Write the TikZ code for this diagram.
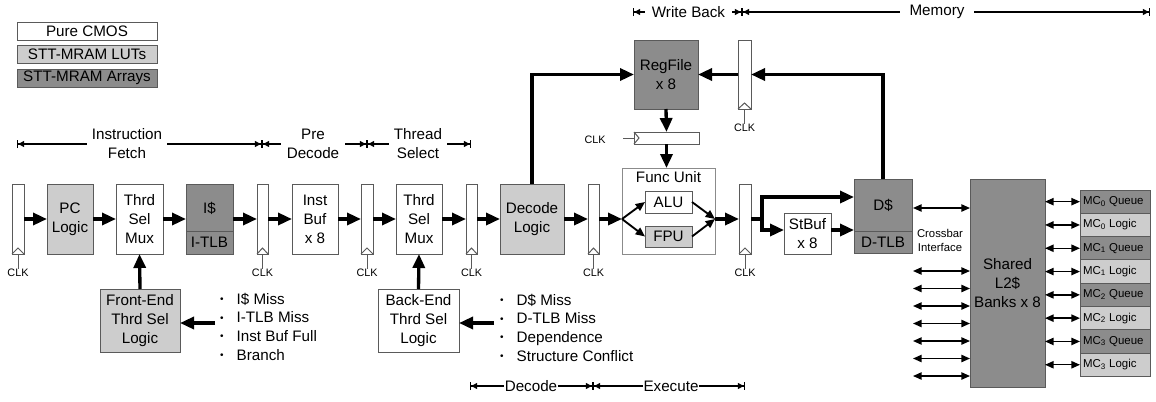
\documentclass[tikz,border=0pt]{standalone}
\usepackage{fontspec}
\setmainfont{Liberation Sans}
\usetikzlibrary{arrows.meta,calc}

\definecolor{lutgray}{HTML}{CDCDCD}
\definecolor{arrgray}{HTML}{8C8C8C}
\definecolor{edge}{HTML}{5A5A5A}

\newcommand\mainf{\fontsize{11.4}{14.25}\selectfont}
\newcommand\bulf{\fontsize{11.4}{14}\selectfont}
\newcommand\clkf{\fontsize{8.1}{9.5}\selectfont}
\newcommand\smf{\fontsize{8.5}{10.5}\selectfont}
\newcommand\mcf{\fontsize{8.6}{10}\selectfont}
\newcommand\bl{\makebox[12.5pt][l]{\raisebox{1.1pt}{\fontsize{7.5}{7.5}\selectfont\textbullet}}}

% block from its corners (x1,y1)-(x2,y2) in pixel units
\newcommand\blk[7]{\node[#6, minimum width={0.75pt*((#4)-(#2))}, minimum height={0.75pt*((#5)-(#3))}] (#1) at ({((#2)+(#4))/2},{((#3)+(#5))/2}) {#7};}

\tikzset{
  every node/.style={inner sep=0pt, outer sep=0pt, font=\mainf},
  box/.style={draw=edge, line width=0.75pt, fill=white, align=center},
  lutbox/.style={box, fill=lutgray},
  arrbox/.style={box, fill=arrgray},
  latch/.style={box},
  clkline/.style={draw=edge, line width=0.75pt},
  thk/.style={line width=2.5pt, -{Triangle[length=10.5pt,width=9pt]}},
  thn/.style={line width=1.4pt, -{Triangle[length=7pt,width=6pt]}},
  dbl/.style={line width=1.1pt, {Triangle[length=6.5pt,width=5.5pt]}-{Triangle[length=6.5pt,width=5.5pt]}},
  dimline/.style={line width=0.9pt, {Bar[width=6pt]Triangle[length=4.5pt,width=4.5pt]}-{Triangle[length=4.5pt,width=4.5pt]Bar[width=6pt]}},
  dimlab/.style={fill=white, align=center, inner xsep=4pt, inner ysep=1pt},
}

\begin{document}
\begin{tikzpicture}[x=0.75pt,y=-0.75pt]
\useasboundingbox (0,0) rectangle (1156,401);

% legend
\blk{lg1}{17}{22}{157}{40}{box}{Pure CMOS}
\blk{lg2}{17}{45}{157}{63}{lutbox}{STT-MRAM LUTs}
\blk{lg3}{17}{69}{157}{87}{arrbox}{STT-MRAM Arrays}

% pipeline stages
\blk{L1}{12}{184}{24}{254}{latch}{}
\blk{PC}{47}{184}{93}{254}{lutbox}{PC\\Logic}
\blk{M1}{116}{184}{163}{254}{box}{Thrd\\Sel\\Mux}
\blk{IC}{186}{184}{233}{254}{arrbox}{}
\blk{L2}{257}{184}{268}{254}{latch}{}
\blk{IB}{292}{184}{338}{254}{box}{Inst\\Buf\\x 8}
\blk{L3}{361}{184}{373}{254}{latch}{}
\blk{M2}{396}{184}{442}{254}{box}{Thrd\\Sel\\Mux}
\blk{L4}{466}{184}{477}{254}{latch}{}
\blk{DL}{500}{184}{564}{254}{lutbox}{Decode\\Logic}
\blk{L5}{588}{184}{599}{254}{latch}{}
\blk{FU}{622}{168}{715}{254}{box, draw=edge!70}{}
\blk{ALU}{645}{191}{692}{213}{box}{ALU}
\blk{FPU}{645}{226}{692}{247}{lutbox}{FPU}
\blk{L6}{739}{184}{751}{254}{latch}{}
\blk{SB}{784}{213}{831}{254}{box}{StBuf\\x 8}
\blk{DC}{854}{179}{912}{253}{arrbox}{}
\blk{L2C}{970}{179}{1045}{387}{arrbox}{Shared\\L2\$\\Banks x 8}
\blk{RF}{634}{40}{698}{109}{arrbox}{RegFile\\x 8}
\blk{WBL}{738}{40}{751}{109}{latch}{}
\blk{HL}{634}{132}{699}{144}{latch}{}
\blk{FE}{100}{289}{180}{352}{lutbox}{Front-End\\Thrd Sel\\Logic}
\blk{BE}{378}{289}{459}{352}{box}{Back-End\\Thrd Sel\\Logic}

% split caches
\draw[clkline] (IC.west |- 0,231) -- (IC.east |- 0,231);
\node (ict) at (209.5,208) {I\$};
\node (ictlb) at (209.5,242.5) {I-TLB};
\draw[clkline] (DC.west |- 0,231) -- (DC.east |- 0,231);
\node (dct) at (883,205) {D\$};
\node (dctlb) at (883,242.5) {D-TLB};
\node (fut) at (668.5,177) {Func Unit};

% memory controllers
\foreach \k/\n/\c in {0/{MC\textsubscript{0} Queue}/arrbox, 1/{MC\textsubscript{0} Logic}/lutbox,
                      2/{MC\textsubscript{1} Queue}/arrbox, 3/{MC\textsubscript{1} Logic}/lutbox,
                      4/{MC\textsubscript{2} Queue}/arrbox, 5/{MC\textsubscript{2} Logic}/lutbox,
                      6/{MC\textsubscript{3} Queue}/arrbox, 7/{MC\textsubscript{3} Logic}/lutbox} {
  \blk{mc\k}{1080}{190+23.3*\k}{1150}{213.3+23.3*\k}{\c}{}
  \node[anchor=west, font=\mcf] (mt\k) at ($(mc\k.west)+(3,0)$) {\n};
  \draw[dbl] (L2C.east |- mc\k.west) -- (mc\k.west);
}

% clocks on the pipeline latches
\foreach \n in {L1,L2,L3,L4,L5,L6,WBL} {
  \draw[clkline] (\n.south west) -- ($(\n.south)+(0,-6)$) -- (\n.south east);
  \node[font=\clkf] (ck\n) at ($(\n.south)+(0,19)$) {CLK};
  \draw[clkline] (\n.south) -- (ck\n.north);
}
\draw[clkline] (HL.north west) -- ($(HL.west)+(5,0)$) -- (HL.south west);
\node[font=\clkf] (ckHL) at (595,140) {CLK};
\coordinate (hk) at (623,138);
\draw[clkline] (hk) -- (HL.west);

% main datapath
\draw[thk] (L1.east) -- (PC.west);
\draw[thk] (PC.east) -- (M1.west);
\draw[thk] (M1.east) -- (IC.west);
\draw[thk] (IC.east) -- (L2.west);
\draw[thk] (L2.east) -- (IB.west);
\draw[thk] (IB.east) -- (L3.west);
\draw[thk] (L3.east) -- (M2.west);
\draw[thk] (M2.east) -- (L4.west);
\draw[thk] (L4.east) -- (DL.west);
\draw[thk] (DL.east) -- (L5.west);
\coordinate (fk) at (FU.west |- L5.east);
\coordinate (jn) at (FU.east |- L5.east);
\draw[thk] (L5.east) -- (fk);
\draw[thn] (fk) -- (ALU.west);
\draw[thn] (fk) -- (FPU.west);
\draw[thn] (ALU.east) -- (jn);
\draw[thn] (FPU.east) -- (jn);
\draw[thk] (jn) -- (L6.west);
\coordinate (bu) at (762,197);
\coordinate (bd) at (762,230);
\draw[thk] (L6.east) -| (bu) -- (bu -| DC.west);
\draw[thk] (L6.east) -| (bd) -- (bd -| SB.west);
\draw[thk] (SB.east |- bd) -- (DC.west |- bd);

% register file paths
\draw[thk] (DL.north) |- (RF.west);
\draw[thk] (DC.north) |- (WBL.east);
\draw[thk] (WBL.west) -- (RF.east);
\draw[thk] (RF.south) -- (HL.north);
\draw[thk] (HL.south) -- (HL.south |- FU.north);

% thread select logic
\draw[thk] (FE.north) -- (M1.south);
\draw[thk] (BE.north) -- (M2.south);
\coordinate (fa) at (215,323);
\draw[thk] (fa) -- (fa -| FE.east);
\coordinate (ba) at (494,323);
\draw[thk] (ba) -- (ba -| BE.east);
\node[anchor=west, align=left, font=\bulf] (fbl) at (220,326.5)
  {\bl I\$ Miss\\\bl I-TLB Miss\\\bl Inst Buf Full\\\bl Branch};
\node[anchor=west, align=left, font=\bulf] (bbl) at (500,327.5)
  {\bl D\$ Miss\\\bl D-TLB Miss\\\bl Dependence\\\bl Structure Conflict};

% crossbar
\coordinate (cx) at (913,208);
\draw[dbl] (cx) -- (cx -| L2C.west);
\node[font=\smf, align=center] (xbar) at (940,240) {Crossbar\\Interface};
\foreach \k in {0,...,6} {
  \coordinate (xa\k) at (913,{271+17.5*\k});
  \draw[dbl] (xa\k) -- (xa\k -| L2C.west);
}

% pipeline stage extents
\coordinate (d0) at (17,144);
\coordinate (d1) at (262,144);
\coordinate (d2) at (367,144);
\coordinate (d3) at (471,144);
\draw[dimline] (d0) -- (d1);
\draw[dimline] (d1) -- (d2);
\draw[dimline] (d2) -- (d3);
\node[dimlab] (lif) at (127,144) {Instruction\\Fetch};
\node[dimlab] (lpd) at (313,144) {Pre\\Decode};
\node[dimlab] (lts) at (418,144) {Thread\\Select};

\coordinate (w0) at (633,12);
\coordinate (w1) at (742,12);
\coordinate (w2) at (1150,12);
\draw[dimline] (w0) -- (w1);
\draw[dimline] (w1) -- (w2);
\node[dimlab, inner xsep=5pt] (lwb) at (688.5,12) {Write Back};
\node[dimlab, inner xsep=7pt] (lmem) at (937,12) {Memory};

\coordinate (e0) at (470,386);
\coordinate (e1) at (593,386);
\coordinate (e2) at (745,386);
\draw[dimline] (e0) -- (e1);
\draw[dimline] (e1) -- (e2);
\node[dimlab, inner xsep=0.5pt] (ldec) at (531,386) {Decode};
\node[dimlab, inner xsep=0.5pt] (lexe) at (671,386) {Execute};
\end{tikzpicture}
\end{document}
